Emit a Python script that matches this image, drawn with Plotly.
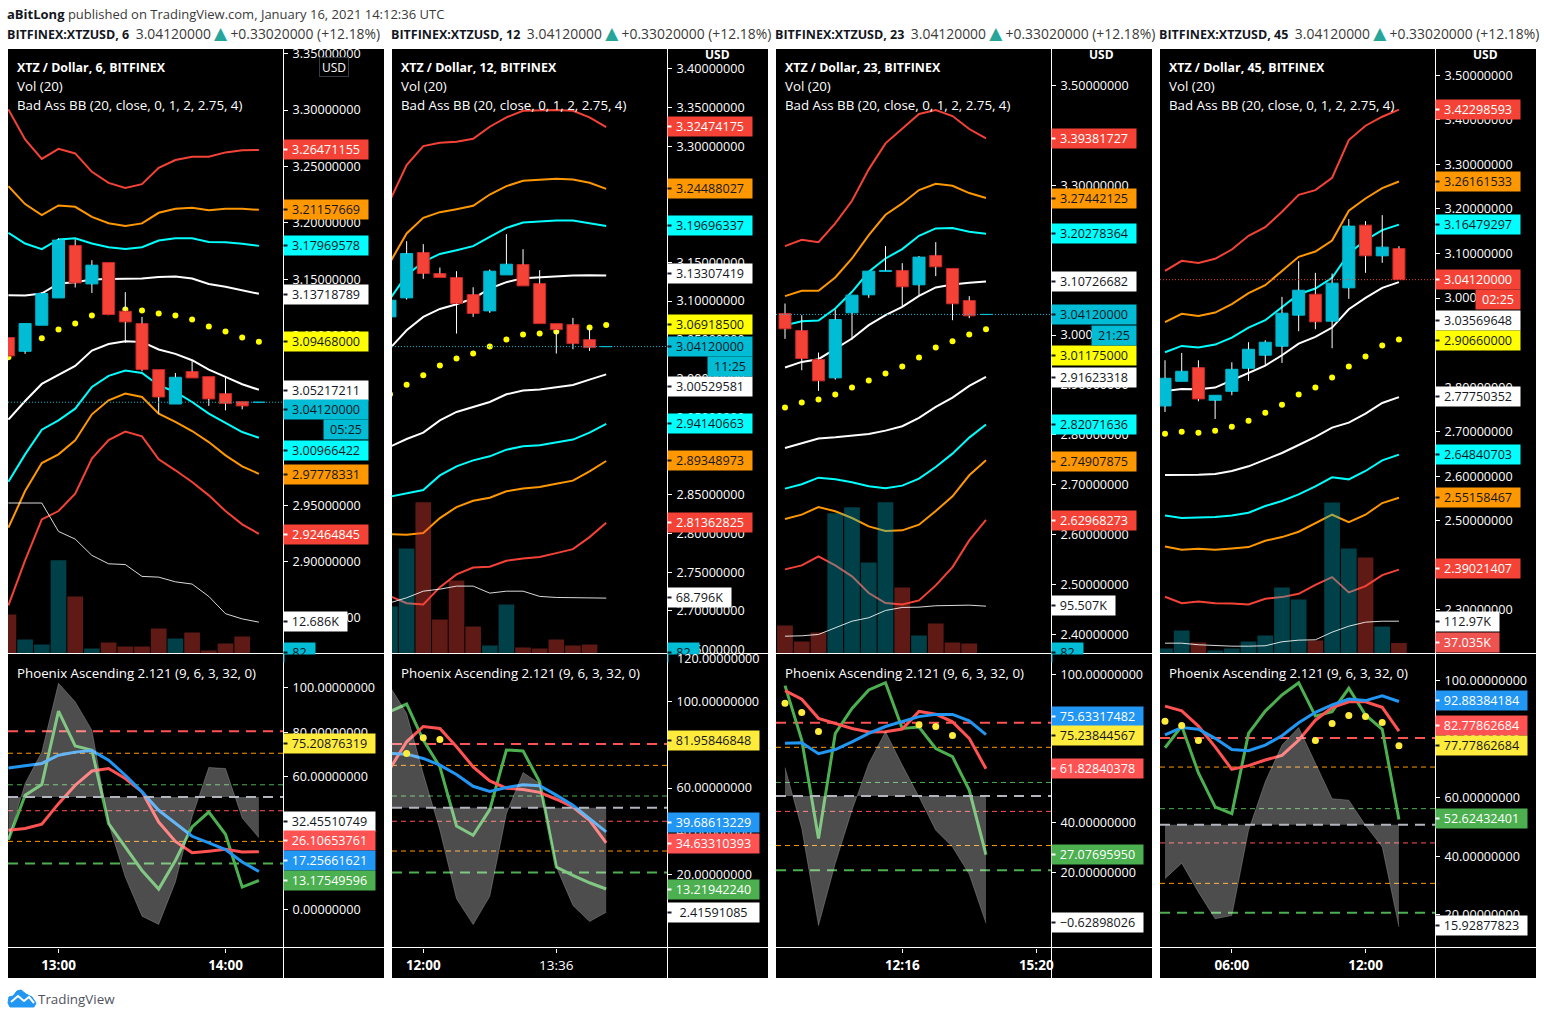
import plotly.graph_objects as go

W, H = 1544, 1019
FONT = "Open Sans"
TS = 12.6

# ---------------- Panel 1 (6 min) ----------------
p1_upper4 = [3.3006,3.2740,3.2568,3.2657,3.2616,3.2453,3.2355,3.2309,3.2344,3.2488,3.2557,3.2586,3.2586,3.2625,3.2643,3.2647]
p1_upper275 = [3.2326,3.2167,3.2069,3.2155,3.2143,3.2054,3.1998,3.1974,3.1996,3.2090,3.2125,3.2134,3.2113,3.2125,3.2125,3.2116]
p1_upper2 = [3.1912,3.1818,3.1768,3.1854,3.1865,3.1818,3.1785,3.1770,3.1785,3.1845,3.1865,3.1865,3.1832,3.1830,3.1815,3.1797]
p1_upper1 = [3.1360,3.1357,3.1375,3.1464,3.1475,3.1499,3.1504,3.1504,3.1508,3.1522,3.1526,3.1508,3.1460,3.1434,3.1402,3.1372]
p1_basis = [3.0810,3.0899,3.0979,3.1056,3.1109,3.1180,3.1209,3.1233,3.1224,3.1198,3.1180,3.1145,3.1082,3.1038,3.0985,3.0947]
p1_lower1 = [3.0258,3.0423,3.0574,3.0653,3.0733,3.0870,3.0928,3.0952,3.0946,3.0879,3.0840,3.0784,3.0701,3.0636,3.0571,3.0522]
p1_lower2 = [2.9708,2.9950,3.0169,3.0252,3.0355,3.0547,3.0645,3.0692,3.0671,3.0562,3.0503,3.0414,3.0311,3.0228,3.0148,3.0097]
p1_lower275 = [2.9301,2.9625,2.9873,2.9950,3.0074,3.0305,3.0429,3.0488,3.0458,3.0311,3.0237,3.0157,3.0059,2.9941,2.9844,2.9778]
p1_lower4 = [2.8612,2.9011,2.9374,2.9448,2.9602,2.9912,3.0077,3.0152,3.0110,2.9906,2.9809,2.9705,2.9587,2.9448,2.9330,2.9246]
p1_open = [3.0985,3.0863,3.1094,3.1336,3.1801,3.1460,3.1650,3.1218,3.1109,3.0701,3.0396,3.0684,3.0639,3.0488,3.0418,3.0412]
p1_close = [3.0822,3.1109,3.1375,3.1848,3.1469,3.1626,3.1189,3.1123,3.0701,3.0458,3.0633,3.0627,3.0441,3.0400,3.0379,3.0412]
p1_high = [3.0985,3.1109,3.1389,3.1863,3.1854,3.1670,3.1650,3.1387,3.1168,3.0701,3.0671,3.0778,3.0639,3.0630,3.0418,3.0412]
p1_low = [3.0822,3.0840,3.1094,3.1336,3.1428,3.1380,3.1189,3.0937,3.0686,3.0311,3.0396,3.0627,3.0379,3.0340,3.0349,3.0412]
p1_vol = [15800,5670,3650,37700,23100,2025,4460,2840,2840,10100,6075,8500,1200,4050,6900,82]
p1_volma = [60900,60900,60900,49400,46300,39700,36300,36000,31200,30900,29000,28100,23100,16100,14000,12686]
p1_blue = [63.8,65.0,65.9,69.6,71.0,71.7,67.4,60.6,53.1,44.8,38.8,33.1,30.1,27.1,21.5,17.26]
p1_red = [35.8,36.6,38.5,47.8,56.1,62.5,63.6,59.1,53.1,39.5,30.8,25.7,26.4,27.2,26.0,26.11]
p1_green = [31.6,51.6,56.4,89.5,73.8,71.9,38.8,28.2,17.7,9.3,22.2,37.3,44.0,34.0,10.2,13.18]
p1_area = [31.3,56.9,71.1,102.0,93.7,80.9,38.8,14.7,-2.9,-6.6,12.5,41.8,64.1,63.6,41.3,32.46]
p1_dots = [None]*16
p1_price_ticks = [2.85,2.90,2.95,3.00,3.05,3.10,3.15,3.20,3.25,3.30,3.35]
p1_time_idx = [3,13]
p1_time_txt = ["<b>13:00</b>","<b>14:00</b>"]

# ---------------- Panel 2 (12 min) ----------------
p2_upper4 = [3.2300,3.2755,3.3001,3.3044,3.3057,3.3096,3.3251,3.3372,3.3458,3.3466,3.3466,3.3458,3.3372,3.3247]
p2_upper275 = [3.1500,3.1873,3.2075,3.2148,3.2187,3.2230,3.2376,3.2484,3.2553,3.2570,3.2579,3.2570,3.2527,3.2449]
p2_upper2 = [3.1030,3.1334,3.1506,3.1609,3.1657,3.1709,3.1829,3.1945,3.2015,3.2028,3.2041,3.2041,3.2006,3.1970]
p2_upper1 = [3.0390,3.0623,3.0795,3.0898,3.0959,3.1033,3.1162,3.1244,3.1295,3.1308,3.1325,3.1330,3.1334,3.1331]
p2_basis = [2.9796,2.9921,3.0042,3.0167,3.0257,3.0322,3.0412,3.0503,3.0567,3.0580,3.0606,3.0632,3.0658,3.0692]
p2_lower1 = [2.9120,2.9219,2.9301,2.9460,2.9568,2.9633,2.9697,2.9796,2.9844,2.9857,2.9891,2.9917,2.9986,3.0053]
p2_lower2 = [2.8475,2.8513,2.8560,2.8749,2.8866,2.8943,2.8995,2.9081,2.9124,2.9137,2.9176,2.9211,2.9301,2.9414]
p2_lower275 = [2.7991,2.7983,2.8004,2.8198,2.8340,2.8422,2.8461,2.8543,2.8581,2.8598,2.8642,2.8681,2.8801,2.8935]
p2_lower4 = [2.7190,2.7099,2.7082,2.7306,2.7470,2.7560,2.7569,2.7647,2.7677,2.7694,2.7745,2.7797,2.7952,2.8136]
p2_open = [3.0796,3.1041,3.1627,3.1356,3.1304,3.1084,3.0873,3.1338,3.1472,3.1226,3.0709,3.0696,3.0503,3.0412]
p2_close = [3.1011,3.1614,3.1356,3.1304,3.0968,3.0839,3.1386,3.1476,3.1196,3.0709,3.0632,3.0451,3.0399,3.0412]
p2_high = [3.1011,3.1773,3.1735,3.1433,3.1386,3.1179,3.1407,3.1864,3.1670,3.1399,3.0709,3.0783,3.0658,3.0412]
p2_low = [3.0796,3.1020,3.1287,3.1304,3.0580,3.0796,3.0847,3.1338,3.1196,3.0709,3.0322,3.0378,3.0356,3.0412]
p2_vol = [58400,130500,187700,42300,90700,33600,9900,60900,7500,6200,17400,9900,11200,82]
p2_volma = [63000,69200,77400,79900,83700,83700,75000,77400,77400,70900,69600,69600,69600,68796]
p2_blue = [76.0,75.7,73.7,70.6,66.3,60.8,58.4,60.2,61.5,61.1,56.7,52.0,45.8,39.69]
p2_red = [69.0,81.4,88.5,87.6,79.1,69.8,63.3,59.9,59.3,58.0,54.8,51.2,45.0,34.63]
p2_green = [95.4,98.9,82.2,69.8,42.4,38.1,50.0,77.6,77.2,62.8,23.4,19.5,16.1,13.22]
p2_area = [107.0,94.6,66.7,40.4,8.7,-3.3,9.8,48.1,67.2,62.1,23.4,5.6,-1.9,2.42]
p2_dots = [None,76.0,83.3,82.5,None,None,None,None,None,None,None,None,None,None]
p2_price_ticks = [2.65,2.70,2.75,2.80,2.85,2.90,2.95,3.00,3.05,3.10,3.15,3.20,3.25,3.30,3.35,3.40]
p2_time_idx = [2,10]
p2_time_txt = ["<b>12:00</b>","13:36"]

# ---------------- Panel 3 (23 min) ----------------
p3_upper4 = [3.1780,3.1907,3.1860,3.2234,3.2689,3.3317,3.3838,3.4138,3.4426,3.4506,3.4385,3.4125,3.3938]
p3_upper275 = [3.0778,3.0885,3.0885,3.1152,3.1533,3.2001,3.2408,3.2635,3.2902,3.3029,3.2989,3.2842,3.2744]
p3_upper2 = [3.0197,3.0277,3.0291,3.0531,3.0865,3.1266,3.1533,3.1720,3.1987,3.2134,3.2141,3.2067,3.2028]
p3_upper1 = [2.9349,2.9462,2.9516,2.9729,2.9930,3.0197,3.0397,3.0564,3.0785,3.0952,3.1012,3.1045,3.1073]
p3_basis = [2.8547,2.8647,2.8707,2.8808,2.8948,2.9088,2.9228,2.9369,2.9549,2.9750,2.9876,3.0010,3.0118]
p3_lower1 = [2.7739,2.7826,2.7926,2.7952,2.7986,2.8019,2.8086,2.8173,2.8340,2.8560,2.8747,2.8981,2.9162]
p3_lower2 = [2.6924,2.7011,2.7144,2.7111,2.7051,2.6971,2.6931,2.6984,2.7124,2.7358,2.7625,2.7946,2.8207]
p3_lower275 = [2.6316,2.6403,2.6556,2.6470,2.6336,2.6169,2.6075,2.6089,2.6202,2.6476,2.6770,2.7191,2.7491]
p3_lower4 = [2.5307,2.5387,2.5568,2.5387,2.5167,2.4833,2.4633,2.4606,2.4686,2.4987,2.5354,2.5888,2.6297]
p3_open = [3.0431,3.0090,2.9509,2.9142,3.0444,3.0805,3.1273,3.1293,3.1005,3.1593,3.1333,3.0691,3.0412]
p3_close = [3.0124,2.9529,2.9082,3.0311,3.0798,3.1279,3.1293,3.0965,3.1560,3.1366,3.0625,3.0384,3.0412]
p3_high = [3.0631,3.0397,2.9649,3.0511,3.0798,3.1279,3.1780,3.1439,3.1580,3.1860,3.1333,3.0778,3.0412]
p3_low = [2.9923,2.9295,2.8881,2.9108,2.9910,3.0745,3.1273,3.0564,3.0792,3.1179,3.0297,3.0337,3.0412]
p3_vol = [56500,24200,42400,282700,294800,183700,304900,133300,36300,60600,22200,20200,82]
p3_volma = [34900,35700,38400,51900,65200,72100,86800,92900,93500,96300,96900,97500,95507]
p3_blue = [72.1,72.3,67.9,69.6,72.7,76.1,78.9,80.8,82.9,83.8,83.8,81.2,75.63]
p3_red = [93.4,89.9,82.2,80.2,78.1,76.7,76.8,77.9,85.0,83.9,80.8,74.1,61.83]
p3_green = [95.4,73.4,33.6,76.1,86.2,93.7,96.6,78.1,78.7,70.0,66.7,53.2,27.08]
p3_area = [62.3,37.7,-1.5,23.5,45.1,64.0,76.8,63.3,50.5,37.0,30.2,19.2,-0.63]
p3_dots = [88.3,84.6,76.9,None,None,None,None,None,79.6,78.9,75.24,None,None]
p3_price_ticks = [2.4,2.5,2.6,2.7,2.8,2.9,3.0,3.1,3.2,3.3,3.4,3.5]
p3_time_idx = [7,15]
p3_time_txt = ["<b>12:16</b>","<b>15:20</b>"]

# ---------------- Panel 4 (45 min) ----------------
p4_upper4 = [3.0610,3.0835,3.0789,3.0880,3.1089,3.1396,3.1591,3.1936,3.2318,3.2423,3.2700,3.3546,3.3868,3.4070,3.4230]
p4_upper275 = [2.9456,2.9644,2.9599,2.9674,2.9861,3.0108,3.0288,3.0603,3.0925,3.1044,3.1291,3.1958,3.2235,3.2467,3.2616]
p4_upper2 = [2.8782,2.8924,2.8887,2.8954,2.9111,2.9336,2.9501,2.9800,3.0085,3.0212,3.0452,3.0999,3.1299,3.1524,3.1648]
p4_upper1 = [2.7913,2.7958,2.7950,2.7988,2.8153,2.8318,2.8483,2.8715,2.8977,2.9127,2.9336,2.9748,3.0003,3.0228,3.0357]
p4_basis = [2.6954,2.6999,2.6977,2.7022,2.7111,2.7246,2.7426,2.7606,2.7831,2.7988,2.8213,2.8460,2.8685,2.8932,2.9066]
p4_lower1 = [2.6026,2.6026,2.6033,2.6048,2.6116,2.6221,2.6370,2.6520,2.6700,2.6880,2.7089,2.7202,2.7404,2.7644,2.7775]
p4_lower2 = [2.5119,2.5059,2.5074,2.5082,2.5119,2.5179,2.5329,2.5441,2.5591,2.5771,2.5973,2.5928,2.6116,2.6355,2.6484]
p4_lower275 = [2.4422,2.4348,2.4370,2.4348,2.4377,2.4407,2.4550,2.4632,2.4752,2.4947,2.5134,2.4969,2.5134,2.5396,2.5516]
p4_lower4 = [2.3291,2.3149,2.3187,2.3149,2.3142,2.3119,2.3247,2.3284,2.3359,2.3561,2.3733,2.3389,2.3531,2.3778,2.3902]
p4_open = [2.7576,2.8130,2.8437,2.7703,2.7905,2.8422,2.8715,2.8917,2.9614,3.0085,2.9479,3.0228,3.1636,3.0947,3.1112]
p4_close = [2.8198,2.8355,2.7733,2.7816,2.8400,2.8849,2.9007,2.9659,3.0175,2.9464,3.0333,3.1614,3.0947,3.1142,3.0412]
p4_high = [2.8602,2.8767,2.8602,2.7816,2.8557,2.9007,2.9052,3.0026,3.0827,3.0565,3.0550,3.1771,3.1726,3.1861,3.1164]
p4_low = [2.7441,2.8130,2.7681,2.7283,2.7816,2.8138,2.8490,2.8542,2.9254,2.9299,2.8872,2.9981,3.0565,3.0790,3.0412]
p4_vol = [17500,80500,38500,10500,17500,42000,63000,231000,189000,45500,528500,367500,336000,94500,37035]
p4_volma = [36100,36100,30500,27000,25600,25600,27000,41000,46600,48000,74600,95600,109600,113000,112970]
p4_blue = [81.5,84.0,83.4,80.3,76.5,76.1,78.0,81.2,85.6,89.2,91.7,93.7,93.2,94.8,92.88]
p4_red = [91.3,89.7,84.5,77.4,69.7,71.0,72.9,74.5,79.7,86.5,90.8,92.8,92.8,90.9,82.78]
p4_green = [77.1,84.5,68.5,56.9,54.6,82.0,89.6,95.1,99.3,87.9,89.4,97.4,88.3,83.4,52.62]
p4_area = [32.4,37.7,27.8,18.7,19.8,48.9,65.5,78.0,84.0,71.7,59.7,59.2,50.6,43.2,15.93]
p4_dots = [86.1,84.7,79.6,None,None,None,None,None,None,79.6,85.4,88.1,87.8,85.7,77.78]
p4_price_ticks = [2.3,2.4,2.5,2.6,2.7,2.8,2.9,3.0,3.1,3.2,3.3,3.4,3.5]
p4_time_idx = [4,12]
p4_time_txt = ["<b>06:00</b>","<b>12:00</b>"]

# Guide levels of the oscillator
osc_levels = [80.4, 70.5, 56.3, 50.8, 44.6, 30.8, 20.8]
osc_ticks = [0,20,40,60,80,100,120]
last_price = 3.0412

COL_UP, COL_DN = "#00BCD4", "#F44336"
C_RED, C_ORG, C_CYN, C_WHT, C_YEL = "#F44336", "#FF9800", "#00FFFF", "#FFFFFF", "#FFFF00"
DARK = "#131722"

panels = [
 dict(left=8, x0=8.4, step=16.7, yr=(2.8186,3.3541), vr=244620, or_=(-17.0,115.2), ticks=p1_price_ticks,
      up4=p1_upper4,up3=p1_upper275,up2=p1_upper2,up1=p1_upper1,basis=p1_basis,lo1=p1_lower1,lo2=p1_lower2,lo3=p1_lower275,lo4=p1_lower4,
      o=p1_open,h=p1_high,l=p1_low,c=p1_close,vol=p1_vol,volma=p1_volma,blue=p1_blue,red=p1_red,green=p1_green,area=p1_area,dots=p1_dots,
      tidx=p1_time_idx,ttxt=p1_time_txt, tf="6", last_col=COL_UP, hide_osc=[],
      labels=[("3.26471155",149.5,C_RED,"#fff",84),("3.21157669",209.5,C_ORG,DARK,84),("3.17969578",245.5,C_CYN,DARK,84),
              ("3.13718789",294,C_WHT,DARK,84),("3.09468000",342,C_YEL,DARK,84),("3.05217211",390,C_WHT,DARK,84),
              ("3.04120000",409.5,COL_UP,DARK,84),("3.00966422",450.5,C_CYN,DARK,84),("2.97778331",474.5,C_ORG,DARK,84),
              ("2.92464845",534.5,C_RED,"#fff",84),("12.686K",621.5,C_WHT,DARK,63)],
      cd=("05:25",429,COL_UP,DARK), lab82=True,
      osc=[("75.20876319",743,"#FFEB3B",DARK),("32.45510749",821,C_WHT,DARK),("26.10653761",840,"#FF5252","#fff"),
           ("17.25661621",860,"#2196F3","#fff"),("13.17549596",880,"#4CAF50","#fff")]),
 dict(left=392, x0=390, step=16.63, yr=(2.6449,3.4255), vr=750772, or_=(-13.9,122.1), ticks=p2_price_ticks,
      up4=p2_upper4,up3=p2_upper275,up2=p2_upper2,up1=p2_upper1,basis=p2_basis,lo1=p2_lower1,lo2=p2_lower2,lo3=p2_lower275,lo4=p2_lower4,
      o=p2_open,h=p2_high,l=p2_low,c=p2_close,vol=p2_vol,volma=p2_volma,blue=p2_blue,red=p2_red,green=p2_green,area=p2_area,dots=p2_dots,
      tidx=p2_time_idx,ttxt=p2_time_txt, tf="12", last_col=COL_UP, hide_osc=[120],
      labels=[("3.32474175",126.5,C_RED,"#fff",84),("3.24488027",188.5,C_ORG,DARK,84),("3.19696337",225.5,C_CYN,DARK,84),
              ("3.13307419",274,C_WHT,DARK,84),("3.06918500",324.5,C_YEL,DARK,84),("3.04120000",346.5,COL_UP,DARK,84),
              ("3.00529581",386,C_WHT,DARK,84),("2.94140663",423.5,C_CYN,DARK,84),("2.89348973",460.5,C_ORG,DARK,84),
              ("2.81362825",522.5,C_RED,"#fff",84),("68.796K",597.5,C_WHT,DARK,63)],
      cd=("11:25",366.5,COL_UP,DARK), lab82=True,
      osc=[("81.95846848",740.5,"#FFEB3B",DARK),("39.68613229",822.5,"#2196F3","#fff"),("34.63310393",843,"#FF5252","#fff"),
           ("13.21942240",889,"#4CAF50","#fff"),("2.41591085",912,C_WHT,DARK)]),
 dict(left=776, x0=785, step=16.75, yr=(2.3623,3.5727), vr=1219476, or_=(-10.4,108.2), ticks=p3_price_ticks,
      up4=p3_upper4,up3=p3_upper275,up2=p3_upper2,up1=p3_upper1,basis=p3_basis,lo1=p3_lower1,lo2=p3_lower2,lo3=p3_lower275,lo4=p3_lower4,
      o=p3_open,h=p3_high,l=p3_low,c=p3_close,vol=p3_vol,volma=p3_volma,blue=p3_blue,red=p3_red,green=p3_green,area=p3_area,dots=p3_dots,
      tidx=p3_time_idx,ttxt=p3_time_txt, tf="23", last_col=COL_UP, hide_osc=[],
      labels=[("3.39381727",138.5,C_RED,"#fff",84),("3.27442125",198,C_ORG,DARK,84),("3.20278364",233.5,C_CYN,DARK,84),
              ("3.10726682",281.5,C_WHT,DARK,84),("3.04120000",314.5,COL_UP,DARK,84),("3.01175000",355.5,C_YEL,DARK,84),
              ("2.91623318",377,C_WHT,DARK,84),("2.82071636",424.5,C_CYN,DARK,84),("2.74907875",461,C_ORG,DARK,84),
              ("2.62968273",520.5,C_RED,"#fff",84),("95.507K",605.5,C_WHT,DARK,63)],
      cd=("21:25",335,COL_UP,DARK), lab82=True,
      osc=[("75.63317482",716,"#2196F3","#fff"),("75.23844567",735,"#FFEB3B",DARK),("61.82840378",768,"#FF5252","#fff"),
           ("27.07695950",854,"#4CAF50","#fff"),("\u22120.62898026",922,C_WHT,DARK)]),
 dict(left=1160, x0=1165, step=16.71, yr=(2.2018,3.5591), vr=2114000, or_=(8.9,109.1), ticks=p4_price_ticks,
      up4=p4_upper4,up3=p4_upper275,up2=p4_upper2,up1=p4_upper1,basis=p4_basis,lo1=p4_lower1,lo2=p4_lower2,lo3=p4_lower275,lo4=p4_lower4,
      o=p4_open,h=p4_high,l=p4_low,c=p4_close,vol=p4_vol,volma=p4_volma,blue=p4_blue,red=p4_red,green=p4_green,area=p4_area,dots=p4_dots,
      tidx=p4_time_idx,ttxt=p4_time_txt, tf="45", last_col=COL_DN, hide_osc=[],
      labels=[("3.42298593",109.5,C_RED,"#fff",84),("3.26161533",181.5,C_ORG,DARK,84),("3.16479297",224.5,C_CYN,DARK,84),
              ("3.04120000",279.5,C_RED,"#fff",84),("3.03569648",320.5,C_WHT,DARK,84),("2.90660000",340.5,C_YEL,DARK,84),
              ("2.77750352",396.5,C_WHT,DARK,84),("2.64840703",454.5,C_CYN,DARK,84),("2.55158467",497.5,C_ORG,DARK,84),
              ("2.39021407",568.5,C_RED,"#fff",84),("112.97K",621,C_WHT,DARK,63),("37.035K",642,"#EF5350","#fff",63)],
      cd=("02:25",299.5,C_RED,"#fff"), lab82=False,
      osc=[("92.88384184",700.5,"#2196F3","#fff"),("82.77862684",725,"#FF5252","#fff"),("77.77862684",745,"#FFEB3B",DARK),
           ("52.62432401",818.5,"#4CAF50","#fff"),("15.92877823",925.5,C_WHT,DARK)]),
]

PLOT_W = 275      # width of the plot area
PANEL_W = 376     # width including the price scale
TOP, MID, BOT, END = 49, 653.5, 947.5, 978

def px(x): return x/W
def py(y): return 1-y/H

fig = go.Figure()
shapes, annos = [], []
layout = {}

def text(s, x, y, size=13, color="#fff", anchor="left"):
    annos.append(dict(text=s, x=px(x-1 if anchor == "left" else x), y=py(y), xref="paper", yref="paper", xanchor=anchor, yanchor="middle",
                      showarrow=False, font=dict(family=FONT, size=size, color=color), borderpad=0))

def tag(s, xl, yc, w, bg, fg, stub=True, h=19):
    annos.append(dict(text=s, x=px(xl-0.5), y=py(yc), xref="paper", yref="paper", xanchor="left", yanchor="middle",
                      showarrow=False, width=w, height=h, align="center", valign="middle", bgcolor=bg, borderpad=0,
                      font=dict(family=FONT, size=TS, color=fg)))
    if stub:
        annos.append(dict(text=" ", x=px(xl), y=py(yc), xref="paper", yref="paper", xanchor="left", yanchor="middle",
                          showarrow=False, width=3, height=1, bgcolor=fg, borderpad=0, font=dict(size=1)))

for n, P in enumerate(panels):
    L = P["left"]; R = L+PLOT_W; E = L+PANEL_W
    ax = lambda k: "" if k == 1 else str(k)
    xp, xo = 1+n, 5+n                    # price x axis, oscillator x axis
    yb, yc_, yv, yo = 1+n, 5+n, 9+n, 13+n  # bands, candles, volume, oscillator
    xr = [(L-P["x0"])/P["step"], (R-P["x0"])/P["step"]]
    idx = list(range(len(P["c"])))

    shapes.append(dict(type="rect", xref="paper", yref="paper", x0=px(L), x1=px(E), y0=py(END), y1=py(TOP),
                       fillcolor="#000", line_width=0, layer="below"))

    # Bands
    for key, col in [("up4",C_RED),("up3",C_ORG),("up2",C_CYN),("up1",C_WHT),("lo1",C_WHT),("lo2",C_CYN),("lo3",C_ORG),("lo4",C_RED)]:
        fig.add_trace(go.Scatter(x=idx, y=P[key], mode="lines", line=dict(color=col, width=2), xaxis=f"x{ax(xp)}", yaxis=f"y{ax(yb)}", hoverinfo="skip", showlegend=False))
    fig.add_trace(go.Scatter(x=idx, y=P["basis"], mode="markers", marker=dict(color=C_YEL, size=6), xaxis=f"x{ax(xp)}", yaxis=f"y{ax(yb)}", hoverinfo="skip", showlegend=False))

    # Candles on an overlay axis so they sit above the bands
    tops = [max(a,b) for a,b in zip(P["o"],P["c"])]
    bots = [min(a,b) for a,b in zip(P["o"],P["c"])]
    ups = [c >= o for o,c in zip(P["o"],P["c"])]
    fig.add_trace(go.Bar(x=idx, y=[t-b for t,b in zip(tops,bots)], base=bots, width=0.72,
                         marker=dict(color=[COL_UP if u else COL_DN for u in ups],
                                     line=dict(color=[COL_UP if u else "#C62828" for u in ups], width=1)),
                         xaxis=f"x{ax(xp)}", yaxis=f"y{yc_}", hoverinfo="skip", showlegend=False))
    wx, wy = [], []
    for i,(hi,lo,t,b) in enumerate(zip(P["h"],P["l"],tops,bots)):
        if hi > t: wx += [i,i,None]; wy += [hi,t,None]
        if lo < b: wx += [i,i,None]; wy += [b,lo,None]
    fig.add_trace(go.Scatter(x=wx, y=wy, mode="lines", line=dict(color="#fff", width=1), xaxis=f"x{ax(xp)}", yaxis=f"y{yc_}", hoverinfo="skip", showlegend=False))
    fig.add_trace(go.Scatter(x=xr, y=[last_price,last_price], mode="lines", line=dict(color=P["last_col"], width=1, dash="1px,2px"), xaxis=f"x{ax(xp)}", yaxis=f"y{yc_}", hoverinfo="skip", showlegend=False))

    # Volume overlay
    fig.add_trace(go.Bar(x=idx, y=P["vol"], width=0.94,
                         marker=dict(color=["rgba(0,188,212,0.34)" if u else "rgba(244,67,54,0.39)" for u in ups], line_width=0),
                         xaxis=f"x{ax(xp)}", yaxis=f"y{yv}", hoverinfo="skip", showlegend=False))
    fig.add_trace(go.Scatter(x=idx, y=P["volma"], mode="lines", line=dict(color="rgba(255,255,255,0.85)", width=1), xaxis=f"x{ax(xp)}", yaxis=f"y{yv}", hoverinfo="skip", showlegend=False))

    # Oscillator
    ox, oy = f"x{xo}", f"y{yo}"
    level_style = [("#FF5252",2,"10px,7px"),("#FF9800",1,"5px,4px"),("#4CAF50",1,"5px,4px"),None,("#FF5252",1,"5px,4px"),("#FF9800",1,"5px,4px"),("#4CAF50",2,"10px,7px")]
    for lv, st in zip(osc_levels, level_style):
        if st:
            fig.add_trace(go.Scatter(x=xr, y=[lv,lv], mode="lines", line=dict(color=st[0], width=st[1], dash=st[2]), xaxis=ox, yaxis=oy, hoverinfo="skip", showlegend=False))
    for key, col in [("green","#4CAF50"),("red","#FF5252"),("blue","#2196F3")]:
        fig.add_trace(go.Scatter(x=idx, y=P[key], mode="lines", line=dict(color=col, width=3), xaxis=ox, yaxis=oy, hoverinfo="skip", showlegend=False))
    fig.add_trace(go.Scatter(x=idx, y=[osc_levels[3]]*len(idx), mode="lines", line=dict(width=0), xaxis=ox, yaxis=oy, hoverinfo="skip", showlegend=False))
    fig.add_trace(go.Scatter(x=idx, y=P["area"], mode="lines", fill="tonexty", fillcolor="rgba(255,255,255,0.30)", line=dict(color="rgba(255,255,255,0.22)", width=1), xaxis=ox, yaxis=oy, hoverinfo="skip", showlegend=False))
    fig.add_trace(go.Scatter(x=xr, y=[osc_levels[3]]*2, mode="lines", line=dict(color="#B2B5BE", width=2, dash="10px,7px"), xaxis=ox, yaxis=oy, hoverinfo="skip", showlegend=False))
    fig.add_trace(go.Scatter(x=idx, y=P["dots"], mode="markers", marker=dict(color="#FFEB3B", size=7), xaxis=ox, yaxis=oy, hoverinfo="skip", showlegend=False))

    # Axes
    dx = [px(L), px(R)]
    dp = [py(MID), py(TOP)]
    do = [py(BOT), py(MID+0.5)]
    layout[f"xaxis{ax(xp)}"] = dict(domain=dx, range=xr, anchor=f"y{ax(yb)}", visible=False, fixedrange=True)
    layout[f"yaxis{ax(yb)}"] = dict(domain=dp, range=P["yr"], anchor=f"x{ax(xp)}", side="right", tickmode="array", tickvals=P["ticks"],
                                    tickformat=".8f", ticks="outside", ticklen=4, tickwidth=1, tickcolor="#fff", showgrid=False, zeroline=False,
                                    showline=False, ticklabelstandoff=2, tickfont=dict(family=FONT, size=TS, color="#fff"))
    layout[f"yaxis{yc_}"] = dict(domain=dp, range=P["yr"], anchor=f"x{ax(xp)}", overlaying=f"y{ax(yb)}", visible=False)
    layout[f"yaxis{yv}"] = dict(domain=dp, range=[0,P["vr"]], anchor=f"x{ax(xp)}", overlaying=f"y{ax(yb)}", visible=False)
    layout[f"xaxis{xo}"] = dict(domain=dx, range=xr, anchor=f"y{yo}", tickmode="array", tickvals=P["tidx"], ticktext=P["ttxt"], ticks="outside",
                                ticklen=4, tickcolor="#fff", showgrid=False, zeroline=False, showline=False, ticklabelstandoff=1,
                                tickfont=dict(family=FONT, size=13.5, color="#fff"))
    layout[f"yaxis{yo}"] = dict(domain=do, range=P["or_"], anchor=f"x{xo}", side="right", tickmode="array", tickvals=osc_ticks,
                                ticktext=["" if v in P["hide_osc"] else f"{v:.8f}" for v in osc_ticks],
                                ticks="outside", ticklen=4, tickcolor="#fff", showgrid=False, zeroline=False, showline=False, ticklabelstandoff=2,
                                tickfont=dict(family=FONT, size=TS, color="#fff"))

    # white separators & header clip
    shapes.append(dict(type="rect", xref="paper", yref="paper", x0=px(L), x1=px(E), y0=py(TOP), y1=py(40), fillcolor="#fff", line_width=0, layer="above"))
    shapes.append(dict(type="line", xref="paper", yref="paper", x0=px(R+0.5), x1=px(R+0.5), y0=py(END), y1=py(TOP), line=dict(color="#fff", width=1), layer="above"))
    for yy in (MID, BOT):
        shapes.append(dict(type="line", xref="paper", yref="paper", x0=px(L), x1=px(E), y0=py(yy), y1=py(yy), line=dict(color="#fff", width=1), layer="above"))

    # Headers
    hx = L-1
    text(f"<b>BITFINEX:XTZUSD, {P['tf']}</b>&nbsp;&nbsp;<span style='color:#3a3a3a;font-size:13.9px'>3.04120000</span> "
         f"<span style='color:#26A69A;font-size:17px;font-family:DejaVu Sans'>\u25B2</span> "
         f"<span style='color:#3a3a3a;font-size:13.9px'>+0.33020000 (+12.18%)</span>", hx, 33, 12.5, "#131722")

    # Legends
    text(f"<b>XTZ / Dollar, {P['tf']}, BITFINEX</b>", L+9, 67, 12.4)
    text("Vol (20)", L+9, 86.5, 13.3)
    text("Bad Ass BB (20, close, 0, 1, 2, 2.75, 4)", L+9, 105, 13.3)
    text("Phoenix Ascending 2.121 (9, 6, 3, 32, 0)", L+9, 672.5, 13.3)

    # Price scale tags
    for (s, y, bg, fg, w) in P["labels"]:
        tag(s, R, y, w, bg, fg)
    s, y, bg, fg = P["cd"]
    tag(s, R+40, y, 44, bg, fg, stub=False)
    if P["lab82"]:
        tag("82", R, 652.5, 31, COL_UP, DARK)
        annos.append(dict(text=" ", x=px(R+1), y=py(654), xref="paper", yref="paper", xanchor="left", yanchor="top",
                          showarrow=False, width=31, height=11, bgcolor="#000", borderpad=0, font=dict(size=1)))
    if n == 1:
        text("120.00000000", R+10, 658, TS)
    for (s, y, bg, fg) in P["osc"]:
        tag(s, R, y, 91, bg, fg)
    if n == 0:
        annos.append(dict(text="USD", x=px(334), y=py(66.5), xref="paper", yref="paper", xanchor="center", yanchor="middle", showarrow=False,
                          width=28, height=18, bgcolor="#000", bordercolor="#363a45", borderwidth=1, borderpad=0, font=dict(family=FONT, size=12, color="#fff")))
    else:
        text("<b>USD</b>", R+50.5, 55, 12, "#fff", "center")

text("<b>aBitLong</b> <span style='color:#3a3a3a'>published on TradingView.com, January 16, 2021 14:12:36 UTC</span>", 7, 14, 13, "#131722")
text("TradingView", 38, 998.5, 13.4, "#50535e")

# Logo
def pth(pts):
    return "M " + " L ".join(f"{px(a):.5f},{py(b):.5f}" for a,b in pts)
shapes.append(dict(type="path", xref="paper", yref="paper", fillcolor="#2196F3", line=dict(color="#2196F3", width=1),
                   path=pth([(8,1003),(9,997),(13,996),(17,991),(21,990),(26,994),(32,997),(36,1003),(34,1007),(10,1007)])+" Z"))
shapes.append(dict(type="path", xref="paper", yref="paper", line=dict(color="#fff", width=2),
                   path=pth([(11,1002),(18,996),(24,1001),(29,997),(34,1003)])))

fig.update_layout(width=W, height=H, autosize=False, margin=dict(l=0,r=0,t=0,b=0,autoexpand=False), paper_bgcolor="#fff", plot_bgcolor="rgba(0,0,0,0)",
                  shapes=shapes, annotations=annos, barmode="overlay", showlegend=False, hovermode=False, font=dict(family=FONT), **layout)

fig.write_html("out.html", config={"displayModeBar": False}, post_script="document.body.style.margin='0';")
